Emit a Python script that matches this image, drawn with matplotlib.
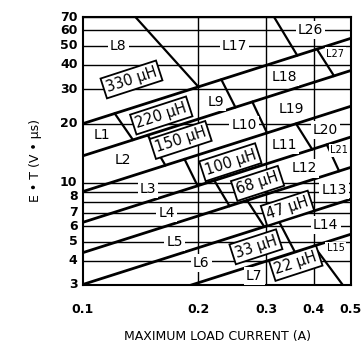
import matplotlib
matplotlib.use('Agg')
import matplotlib.pyplot as plt
import matplotlib.transforms as mtransforms
from matplotlib.ticker import NullLocator
import numpy as np

plt.rcParams['font.family'] = ['DejaVu Sans']

# Axes
courant_ticks = [0.1, 0.2, 0.3, 0.4, 0.5]
courant_labels = ['0.1', '0.2', '0.3', '0.4', '0.5']
et_ticks = [3, 4, 5, 6, 7, 8, 10, 20, 30, 40, 50, 60, 70]
et_grille = [3, 4, 5, 6, 7, 8, 9, 10, 20, 30, 40, 50, 60, 70]
courant_grille = [0.2, 0.3, 0.4]

# Frontieres entre inductances (E.T a 0.1 A), droites en log-log
frontieres_et = [20, 13.7, 9.0, 6.27, 4.39, 3.02, 2.0]
pente = 0.623

# Separateurs : bande, courant sur la frontiere du haut, courant sur celle du bas
sep_bande = [0, 0, 1, 1, 1, 2, 2, 3, 3, 4, 4, 5, 6, 7]
sep_i_haut = [0.137, 0.315, 0.121, 0.2295, 0.4075, 0.1475, 0.2765,
              0.184, 0.3595, 0.220, 0.4325, 0.268, 0.325, 0.400]
sep_i_bas = [0.200, 0.362, 0.135, 0.2497, 0.4515, 0.164, 0.302,
             0.199, 0.396, 0.241, 0.4655, 0.297, 0.357, 0.476]

# Zones
zones = ['L1', 'L2', 'L3', 'L4', 'L5', 'L6', 'L7', 'L8', 'L9', 'L10', 'L11',
         'L12', 'L13', 'L14', 'L15', 'L17', 'L18', 'L19', 'L20', 'L21', 'L26', 'L27']
zones_i = [0.1118, 0.1273, 0.1478, 0.165, 0.1733, 0.2034, 0.2796, 0.1235, 0.2224,
           0.263, 0.3347, 0.377, 0.4515, 0.4296, 0.4555, 0.2483, 0.3347, 0.3487,
           0.4296, 0.4655, 0.392, 0.4555]
zones_et = [17.4, 13.0, 9.3, 7.0, 5.0, 3.9, 3.33, 50, 25.8, 19.6, 15.5, 11.8,
            9.15, 6.1, 4.63, 50, 34.7, 23.8, 18.5, 14.6, 60, 45.5]
petites = ['L15', 'L21', 'L27']

# Inductances
inductances = ['330 µH', '220 µH', '150 µH', '100 µH', '68 µH', '47 µH', '33 µH', '22 µH']
ind_i = [0.1338, 0.160, 0.1797, 0.2423, 0.2853, 0.3414, 0.2825, 0.3589]
ind_et = [33.6, 22.0, 16.5, 12.7, 9.9, 7.4, 4.70, 3.87]

i_min, i_max = 0.1, 0.5
et_min, et_max = 3, 70


def frontiere(k, i):
    # k = -1 : bord du haut, k = nombre de frontieres : bord du bas
    if k < 0:
        return et_max
    if k >= len(frontieres_et):
        return et_min
    return frontieres_et[k] * (i / 0.1) ** pente


fig = plt.figure(figsize=(3.61, 3.48), dpi=100)
ax = fig.add_axes([83 / 361, 1 - 285 / 348, 268 / 361, 268 / 348])
ax.set_xscale('log')
ax.set_yscale('log')
ax.set_xlim(i_min, i_max)
ax.set_ylim(et_min, et_max)

# Grille
for v in et_grille:
    ax.axhline(v, color='black', lw=1.0, zorder=1)
for c in courant_grille:
    ax.axvline(c, color='black', lw=1.0, zorder=1)

# Frontieres
ii = np.array([i_min, i_max])
for v0 in frontieres_et:
    ax.plot(ii, v0 * (ii / 0.1) ** pente, color='black', lw=2.0, zorder=2)

# Separateurs
for b, ih, ib in zip(sep_bande, sep_i_haut, sep_i_bas):
    ax.plot([ih, ib], [frontiere(b - 1, ih), frontiere(b, ib)],
            color='black', lw=1.6, zorder=2)

# Noms des zones
for nom, x, y in zip(zones, zones_i, zones_et):
    taille = 7 if nom in petites else 10
    ax.text(x, y, nom, fontsize=taille, ha='center', va='center', zorder=4,
            bbox=dict(boxstyle='square,pad=0.15', fc='white', ec='none'))

# Boites d'inductance
for nom, x, y in zip(inductances, ind_i, ind_et):
    ax.text(x, y, nom, fontsize=10.5, ha='center', va='center', rotation=18,
            rotation_mode='anchor', zorder=5,
            bbox=dict(boxstyle='square,pad=0.2', fc='white', ec='black', lw=1.3))

ax.set_xticks(courant_ticks)
ax.set_xticklabels(courant_labels, fontweight='bold')
ax.set_yticks(et_ticks)
ax.set_yticklabels([])
ax.xaxis.set_minor_locator(NullLocator())
ax.yaxis.set_minor_locator(NullLocator())
ax.tick_params(axis='x', length=0, pad=13, labelsize=9)
ax.tick_params(axis='y', length=0)
for s in ax.spines.values():
    s.set_linewidth(1.5)

# Graduations E.T ecrites a la main (le 8 est remonte comme sur l'original)
trans_y = mtransforms.blended_transform_factory(ax.transAxes, ax.transData)
for v in et_ticks:
    decal = 3.5 if v == 8 else 0
    t = mtransforms.offset_copy(trans_y, fig=fig, x=-4, y=decal, units='points')
    ax.text(0, v, str(v), transform=t, ha='right', va='center',
            fontsize=9, fontweight='bold')

ax.set_xlabel('MAXIMUM LOAD CURRENT (A)', fontsize=9, labelpad=10)
fig.text(36 / 361, 1 - 160 / 348, 'E • T (V • µs)', rotation=90, fontsize=9,
         ha='center', va='center')

fig.savefig('out.png', dpi=100)
